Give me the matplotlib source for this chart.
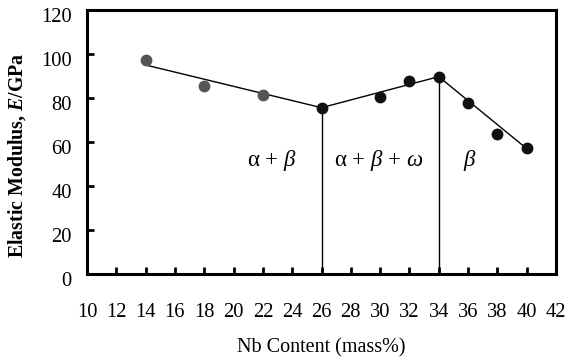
import numpy as np
import matplotlib
matplotlib.use("Agg")
import matplotlib.pyplot as plt
import matplotlib.transforms as mtransforms

plt.rcParams['font.family'] = 'Liberation Serif'
plt.rcParams['mathtext.fontset'] = 'custom'
plt.rcParams['mathtext.rm'] = 'Liberation Serif'
plt.rcParams['mathtext.it'] = 'Liberation Serif:italic'
plt.rcParams['mathtext.bf'] = 'Liberation Serif:bold'
plt.rcParams['mathtext.bfit'] = 'Liberation Serif:italic:bold'

# measured points
nb_gray = [14, 18, 22]
e_gray = [97.3, 85.5, 81.4]
nb_black = [26, 30, 32, 34, 36, 38, 40]
e_black = [75.6, 80.3, 87.9, 89.7, 77.6, 63.6, 57.1]

# fitted trend segments
fit_x = [14, 26, 34, 40]
fit_y = [95.0, 75.6, 89.7, 57.0]

# phase boundaries
bound_x = [26, 34]
bound_top = [75.6, 89.7]

phase_labels = [r"$\mathrm{\alpha}$ + $\mathit{\beta}$",
                r"$\mathrm{\alpha}$ + $\mathit{\beta}$ + $\mathit{\omega}$",
                r"$\mathit{\beta}$"]
phase_x = [22.6, 29.9, 36.1]
phase_y = [51.5, 51.5, 51.5]

fig = plt.figure(figsize=(5.67, 3.63), dpi=100)
ax = fig.add_axes([87/567, 1 - 274/363, (556-87)/567, (274-10)/363])

ax.plot(fit_x, fit_y, color='black', linewidth=1.0, zorder=2)
for bx, bt in zip(bound_x, bound_top):
    ax.plot([bx, bx], [0, bt], color='black', linewidth=1.0, zorder=2)
ax.plot(nb_gray, e_gray, 'o', color='#555555', markersize=7.5, zorder=3)
ax.plot(nb_black, e_black, 'o', color='#111111', markersize=7.5, zorder=3)

for lab, tx, ty in zip(phase_labels, phase_x, phase_y):
    ax.text(tx, ty, lab, fontsize=16.5, ha='center', va='center')

ax.set_xlim(10, 42)
ax.set_ylim(0, 120)
ax.set_xticks(np.arange(10, 43, 2))
ax.set_yticks(np.arange(0, 121, 20))
for s in ax.spines.values():
    s.set_linewidth(2.2)
ax.tick_params(axis='x', direction='in', length=5, width=2, pad=21, labelsize=14.8)
ax.tick_params(axis='y', direction='in', length=5, width=2, pad=11, labelsize=14.8)

# y tick labels sit a little below their ticks in the original
shift = mtransforms.ScaledTranslation(0, -5/100, fig.dpi_scale_trans)
for lbl in ax.get_yticklabels():
    lbl.set_transform(lbl.get_transform() + shift)

ax.set_xlabel("Nb Content (mass%)", fontsize=14.5)
ax.xaxis.set_label_coords(0.5, -0.245)
ax.set_ylabel(r"Elastic Modulus, $\mathbfit{E}$/GPa", fontsize=14.3,
              fontweight='bold')
ax.yaxis.set_label_coords(-0.125, 0.45)

fig.savefig("out.png", dpi=100)
